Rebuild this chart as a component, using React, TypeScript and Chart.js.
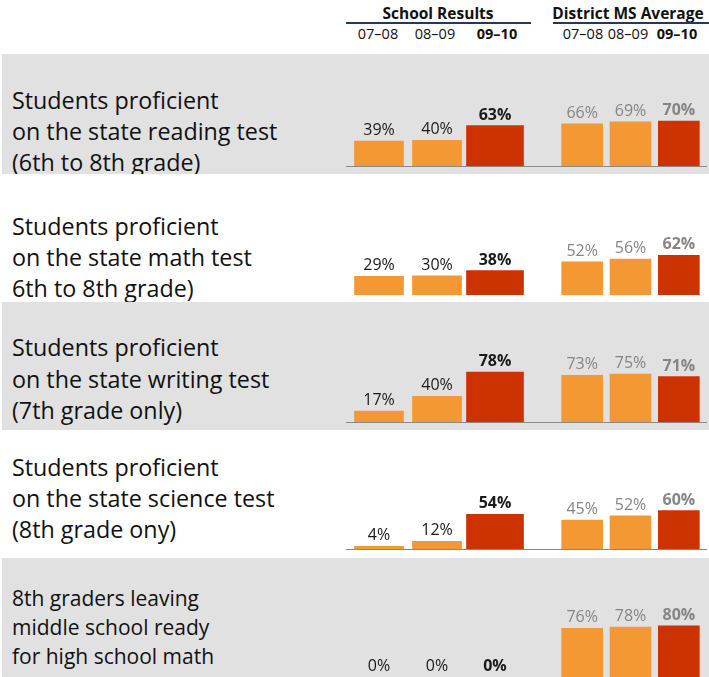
import React, { useEffect, useRef } from "react";
import { Chart, registerables } from "chart.js";

Chart.register(...registerables);

// ---------- data ----------
const years = ["07–08", "08–09", "09–10"];
const groupTitles = ["School Results", "District MS Average"];
const rowLabels = [
  ["Students proficient", "on the state reading test", "(6th to 8th grade)"],
  ["Students proficient", "on the state math test", "6th to 8th grade)"],
  ["Students proficient", "on the state writing test", "(7th grade only)"],
  ["Students proficient", "on the state science test", "(8th grade ony)"],
  ["8th graders leaving", "middle school ready", "for high school math"],
];
const schoolResults = [
  [39, 40, 63],
  [29, 30, 38],
  [17, 40, 78],
  [4, 12, 54],
  [0, 0, 0],
];
const districtAverage = [
  [66, 69, 70],
  [52, 56, 62],
  [73, 75, 71],
  [45, 52, 60],
  [76, 78, 80],
];

// ---------- styling / layout ----------
const ORANGE = "#F49834";
const RED = "#CC3300";
const BAND = "#E1E1E1";
const NAVY = "#1F3864";
const FONT = '"Open Sans", "DejaVu Sans", sans-serif';
const PX_PER_PCT = 0.64;
const CANVAS_H = 96;

type RowLayout = {
  top: number;
  bottom: number;
  gray: boolean;
  base: number;
  line: boolean;
  baselines: number[];
  fontSize: number;
};

const rows: RowLayout[] = [
  { top: 54, bottom: 174, gray: true, base: 166, line: true, baselines: [110, 141, 172], fontSize: 23.3 },
  { top: 174, bottom: 302, gray: false, base: 295, line: false, baselines: [236, 267, 298], fontSize: 23.3 },
  { top: 302, bottom: 430, gray: true, base: 422, line: true, baselines: [357, 389, 420], fontSize: 23.3 },
  { top: 430, bottom: 558, gray: false, base: 549, line: true, baselines: [477, 508, 539], fontSize: 23.3 },
  { top: 558, bottom: 700, gray: true, base: 677, line: false, baselines: [607, 636, 665], fontSize: 21 },
];

function Bars(props: {
  values: number[];
  left: number;
  width: number;
  base: number;
  thick: [number, number];
  labelColor: string;
}) {
  const { values, left, width, base, thick, labelColor } = props;
  const ref = useRef<HTMLCanvasElement>(null);
  useEffect(() => {
    const labelPlugin = {
      id: "vlabels",
      afterDatasetsDraw(chart: any) {
        const ctx = chart.ctx;
        chart.data.datasets.forEach((ds: any, di: number) => {
          const meta = chart.getDatasetMeta(di);
          meta.data.forEach((el: any, i: number) => {
            const v = ds.data[i];
            if (v === null || v === undefined) return;
            ctx.save();
            ctx.font = `${di === 1 ? "bold " : ""}16px ${FONT}`;
            ctx.fillStyle = labelColor;
            ctx.textAlign = "center";
            ctx.textBaseline = "alphabetic";
            ctx.fillText(`${v}%`, el.x, el.y - 6);
            ctx.restore();
          });
        });
      },
    };
    const colorFor = (c: string) => (ctx: any) => (ctx.raw === 0 ? "rgba(0,0,0,0)" : c);
    const chart = new Chart(ref.current as HTMLCanvasElement, {
      type: "bar",
      data: {
        labels: years,
        datasets: [
          {
            data: values.map((v, i) => (i < 2 ? v : null)),
            backgroundColor: colorFor(ORANGE),
            barThickness: thick[0],
            grouped: false,
            borderWidth: 0,
          } as any,
          {
            data: values.map((v, i) => (i === 2 ? v : null)),
            backgroundColor: colorFor(RED),
            barThickness: thick[1],
            grouped: false,
            borderWidth: 0,
          } as any,
        ],
      },
      options: {
        animation: false,
        responsive: false,
        events: [],
        layout: { padding: 0 },
        plugins: { legend: { display: false }, tooltip: { enabled: false } },
        scales: {
          x: { display: false },
          y: { display: false, min: 0, max: CANVAS_H / PX_PER_PCT },
        },
      },
      plugins: [labelPlugin],
    });
    return () => chart.destroy();
  }, []);
  return (
    <canvas
      ref={ref}
      width={width}
      height={CANVAS_H}
      style={{ position: "absolute", left, top: base - CANVAS_H, width, height: CANVAS_H }}
    />
  );
}

function TextAt(props: { x: number; baseline: number; size: number; bold?: boolean; color?: string; center?: boolean; children: any }) {
  const { x, baseline, size, bold, color, center, children } = props;
  return (
    <div
      style={{
        position: "absolute",
        left: center ? x - 150 : x,
        width: center ? 300 : undefined,
        textAlign: center ? "center" : "left",
        top: baseline - 0.888 * size,
        fontFamily: FONT,
        fontSize: size,
        lineHeight: `${size}px`,
        fontWeight: bold ? 700 : 400,
        color: color || "#111",
        whiteSpace: "nowrap",
      }}
    >
      {children}
    </div>
  );
}

export default function App() {
  const schoolCenters = [378, 435, 497];
  const districtCenters = [583, 628, 677];
  return (
    <div
      style={{
        position: "absolute",
        left: 0,
        top: 0,
        width: 709,
        height: 677,
        overflow: "hidden",
        background: "#fff",
      }}
    >
      {/* headers */}
      <TextAt x={438} baseline={19.5} size={15.5} bold center color="#111">
        {groupTitles[0]}
      </TextAt>
      <TextAt x={628} baseline={19.5} size={15.5} bold center color="#111">
        {groupTitles[1]}
      </TextAt>
      <div style={{ position: "absolute", left: 346, top: 22, width: 185, height: 1.5, background: NAVY }} />
      <div style={{ position: "absolute", left: 553, top: 22, width: 156, height: 1.5, background: NAVY }} />
      {years.map((y, i) => (
        <TextAt key={"s" + i} x={schoolCenters[i]} baseline={39.5} size={14.5} bold={i === 2} center>
          {y}
        </TextAt>
      ))}
      {years.map((y, i) => (
        <TextAt key={"d" + i} x={districtCenters[i]} baseline={39.5} size={14.5} bold={i === 2} center>
          {y}
        </TextAt>
      ))}

      {rows.map((r, ri) => (
        <React.Fragment key={ri}>
          <div
            style={{
              position: "absolute",
              left: 2,
              top: r.top,
              width: 707,
              height: r.bottom - r.top,
              background: r.gray ? BAND : "#fff",
              overflow: "hidden",
            }}
          >
            {rowLabels[ri].map((t, li) => (
              <TextAt key={li} x={10} baseline={r.baselines[li] - r.top} size={r.fontSize}>
                {t}
              </TextAt>
            ))}
          </div>
          {r.line && (
            <div style={{ position: "absolute", left: 346, top: r.base, width: 361, height: 1, background: "#888" }} />
          )}
          <Bars values={schoolResults[ri]} left={350} width={174} base={r.base} thick={[49, 57]} labelColor="#1a1a1a" />
          <Bars values={districtAverage[ri]} left={558} width={145} base={r.base} thick={[41, 41]} labelColor="#858585" />
        </React.Fragment>
      ))}
    </div>
  );
}
